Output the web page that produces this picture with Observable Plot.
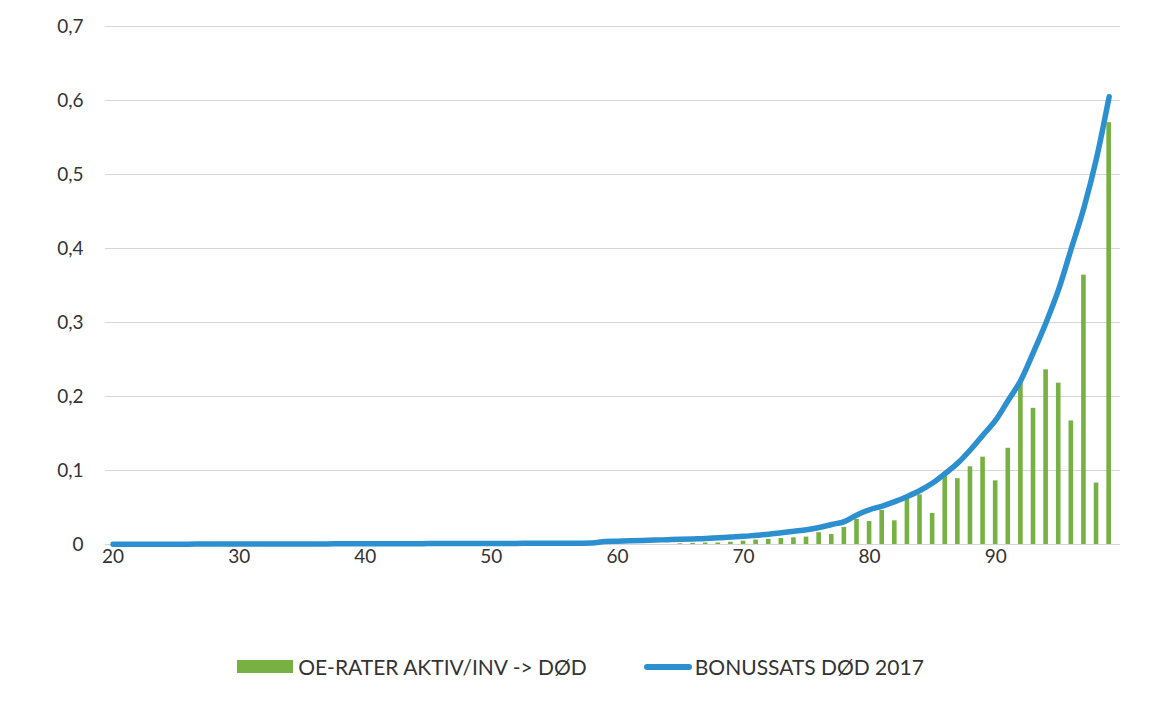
<!DOCTYPE html>
<html>
<head>
<meta charset="utf-8">
<script src="https://cdn.jsdelivr.net/npm/d3@7"></script>
<script src="https://cdn.jsdelivr.net/npm/@observablehq/plot@0.6"></script>
<style>
  html, body { margin: 0; padding: 0; background: #fff; }
  #wrap { width: 1161px; height: 707px; position: relative; font-family: Lato, "Open Sans", sans-serif; }
  #chart svg text { font-size: 19px !important; font-family: Lato, "Open Sans", sans-serif !important; fill: #333; }
  #legend { position: absolute; top: 654px; left: 0; width: 1161px; display: flex; justify-content: center; align-items: center; font-size: 21px; color: #333; }
  .sw-bar { width: 56px; height: 13px; background: #78b143; margin-right: 5px; }
  .sw-line { width: 48px; height: 6px; background: #2c8fd0; border-radius: 3px; margin-right: 3px; margin-left: 57px; }
</style>
</head>
<body>
<div id="wrap">
  <div id="chart"></div>
  <div id="legend"></div>
</div>
<script>
// Line series: BONUSSATS DØD 2017, ages 20..99
const lineAges = [20,21,22,23,24,25,26,27,28,29,30,31,32,33,34,35,36,37,38,39,
  40,41,42,43,44,45,46,47,48,49,50,51,52,53,54,55,56,57,58,59,
  60,61,62,63,64,65,66,67,68,69,70,71,72,73,74,75,76,77,78,79,
  80,81,82,83,84,85,86,87,88,89,90,91,92,93,94,95,96,97,98,99];
const bonusValues = [0.0005,0.0005,0.0005,0.0005,0.0005,0.0005,0.0005,0.0006,0.0006,0.0006,
  0.0006,0.0006,0.0007,0.0007,0.0007,0.0008,0.0008,0.0008,0.0009,0.0009,
  0.0010,0.0010,0.0010,0.0011,0.0011,0.0012,0.0012,0.0013,0.0013,0.0014,
  0.0014,0.0015,0.0015,0.0016,0.0016,0.0017,0.0017,0.0018,0.0020,0.0040,
  0.0045,0.0050,0.0055,0.0060,0.0065,0.0070,0.0075,0.0080,0.0090,0.0100,
  0.0110,0.0125,0.0140,0.0160,0.0180,0.0200,0.0230,0.0270,0.0310,0.0400,
  0.0470,0.0520,0.0580,0.0650,0.0730,0.0830,0.0960,0.1100,0.1280,0.1480,
  0.1680,0.1950,0.2220,0.2600,0.3000,0.3450,0.4000,0.4550,0.5220,0.6050];

// Bar series: OE-RATER AKTIV/INV -> DØD
const barAges = [65,66,67,68,69,70,71,72,73,74,75,76,77,78,79,80,81,82,
  83,84,85,86,87,88,89,90,91,92,93,94,95,96,97,98,99];
const oeValues = [0.001,0.0015,0.002,0.002,0.003,0.0045,0.006,0.007,0.008,0.009,0.010,0.016,0.0135,0.023,0.034,0.031,0.046,0.032,
  0.061,0.067,0.042,0.097,0.089,0.105,0.118,0.086,0.130,0.219,0.184,0.236,0.218,0.167,0.364,0.083,0.570];

const yTicks = [0, 0.1, 0.2, 0.3, 0.4, 0.5, 0.6, 0.7];
const xTicks = [20, 30, 40, 50, 60, 70, 80, 90];

const seriesNames = ["OE-RATER AKTIV/INV -> DØD", "BONUSSATS DØD 2017"];

const lineData = lineAges.map((a, i) => ({age: a, v: bonusValues[i]}));
const barData = barAges.map((a, i) => ({age: a, v: oeValues[i]}));

const chart = Plot.plot({
  width: 1161,
  height: 600,
  marginLeft: 105,
  marginRight: 41,
  marginTop: 26,
  marginBottom: 56,
  style: {fontFamily: "Lato, 'Open Sans', sans-serif", color: "#333", background: "#fff"},
  x: {domain: [19.4, 99.9]},
  y: {domain: [0, 0.7]},
  marks: [
    Plot.ruleY(yTicks, {stroke: "#d6d6d6", strokeWidth: 1}),
    Plot.axisY(yTicks, {tickSize: 0, tickPadding: 22, label: null,
      tickFormat: d => d === 0 ? "0" : d3.format(".1f")(d).replace(".", ",")}),
    Plot.axisX(xTicks, {tickSize: 0, tickPadding: 5, label: null, tickFormat: d => String(d)}),
    Plot.rectY(barData, {x1: d => d.age - 0.5, x2: d => d.age + 0.5, y: "v", fill: "#78b143", insetLeft: 4, insetRight: 4}),
    Plot.line(lineData, {x: "age", y: "v", stroke: "#2c8fd0", strokeWidth: 5.5, strokeLinecap: "round", strokeLinejoin: "round", curve: "monotone-x"})
  ]
});
document.getElementById("chart").appendChild(chart);

const legend = document.getElementById("legend");
legend.innerHTML = `<div class="sw-bar"></div><span>${seriesNames[0]}</span><div class="sw-line"></div><span>${seriesNames[1]}</span>`;
</script>
</body>
</html>
